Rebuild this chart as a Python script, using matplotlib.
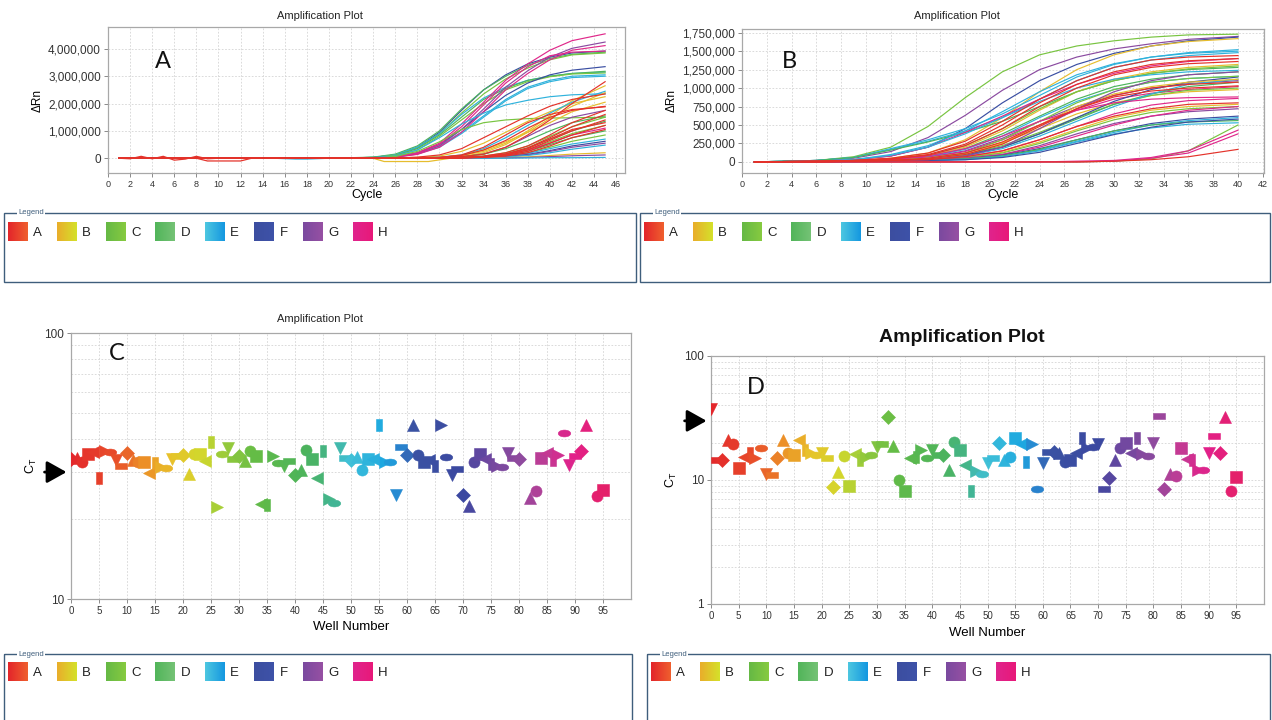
import numpy as np
import matplotlib
matplotlib.use('Agg')
import matplotlib.pyplot as plt
from matplotlib.colors import LinearSegmentedColormap, to_rgb
from matplotlib.path import Path
from matplotlib.transforms import Affine2D
from matplotlib.patches import Rectangle
from matplotlib.ticker import FuncFormatter, FixedLocator, NullFormatter

plt.rcParams['font.family'] = ['Liberation Sans', 'DejaVu Sans']

# ============================ DATA ============================
row_names = ['A', 'B', 'C', 'D', 'E', 'F', 'G', 'H']

# ---- Panel A: amplification curves (delta Rn, millions) ----
cycles_a = [1, 20, 24, 26, 28, 30, 32, 34, 36, 38, 40, 42, 45]
rows_a = "FDCEDCFEEH" + "GHHECABABB" + "EBAGAAAAAC" + "DCDCEFGEBG" + "EAHDA"
drn_a = [
    [0, 0, 0.03, 0.12, 0.40, 0.95, 1.75, 2.50, 3.05, 3.45, 3.70, 3.85, 3.92],
    [0, 0, 0.04, 0.15, 0.45, 1.00, 1.80, 2.50, 3.00, 3.40, 3.65, 3.80, 3.88],
    [0, 0, 0.03, 0.12, 0.38, 0.90, 1.65, 2.35, 2.90, 3.30, 3.60, 3.78, 3.85],
    [0, 0, 0.03, 0.12, 0.40, 0.90, 1.60, 2.20, 2.60, 2.85, 3.00, 3.10, 3.15],
    [0, 0, 0.03, 0.10, 0.35, 0.85, 1.50, 2.15, 2.55, 2.85, 3.00, 3.10, 3.18],
    [0, 0, 0.02, 0.10, 0.30, 0.80, 1.40, 2.00, 2.50, 2.80, 2.98, 3.08, 3.12],
    [0, 0, 0.02, 0.06, 0.20, 0.50, 1.05, 1.70, 2.30, 2.75, 3.05, 3.22, 3.35],
    [0, 0, 0.02, 0.05, 0.18, 0.45, 0.95, 1.55, 2.15, 2.60, 2.85, 3.00, 3.05],
    [0, 0, 0.02, 0.05, 0.16, 0.40, 0.90, 1.50, 2.10, 2.55, 2.80, 2.95, 3.00],
    [0, 0, 0.01, 0.05, 0.20, 0.55, 1.25, 2.05, 2.85, 3.45, 3.95, 4.30, 4.55],
    [0, 0, 0.01, 0.04, 0.15, 0.45, 1.05, 1.80, 2.60, 3.20, 3.70, 4.02, 4.25],
    [0, 0, 0.01, 0.04, 0.14, 0.40, 0.95, 1.70, 2.50, 3.10, 3.60, 3.95, 4.12],
    [0, 0, 0.01, 0.05, 0.18, 0.50, 1.15, 1.95, 2.75, 3.35, 3.75, 3.88, 3.92],
    [0, 0, 0.02, 0.08, 0.30, 0.75, 1.25, 1.65, 1.95, 2.12, 2.25, 2.32, 2.36],
    [0, 0, 0.01, 0.06, 0.25, 0.60, 1.05, 1.30, 1.40, 1.45, 1.47, 1.48, 1.50],
    [0, 0, 0, 0.01, 0.04, 0.12, 0.35, 0.75, 1.15, 1.55, 1.90, 2.15, 2.35],
    [0, 0, 0, 0.01, 0.03, 0.08, 0.25, 0.55, 0.95, 1.35, 1.70, 2.00, 2.25],
    [0, 0, 0, 0, 0, 0.02, 0.06, 0.15, 0.40, 0.85, 1.40, 2.00, 2.80],
    [0, 0, 0, 0, 0.01, 0.03, 0.10, 0.25, 0.55, 1.00, 1.55, 2.10, 2.65],
    [0, 0, 0, 0, 0, 0.02, 0.06, 0.20, 0.50, 0.95, 1.45, 1.90, 2.40],
    [0, 0, 0, 0, 0.01, 0.04, 0.12, 0.35, 0.75, 1.20, 1.65, 2.05, 2.45],
    [0, 0, 0, 0, 0.01, 0.03, 0.10, 0.30, 0.60, 0.95, 1.30, 1.70, 2.05],
    [0, 0, 0, 0, 0.01, 0.03, 0.10, 0.30, 0.65, 1.10, 1.50, 1.75, 1.90],
    [0, 0, 0, 0, 0, 0.02, 0.05, 0.15, 0.40, 0.80, 1.20, 1.50, 1.75],
    [0, 0, 0, 0, 0, 0.01, 0.03, 0.08, 0.20, 0.45, 0.85, 1.30, 1.75],
    [0, 0, 0, 0, 0, 0.01, 0.02, 0.06, 0.15, 0.38, 0.75, 1.15, 1.60],
    [0, 0, 0, 0, 0, 0, 0.02, 0.05, 0.12, 0.30, 0.65, 1.00, 1.40],
    [0, 0, 0, 0, 0, 0, 0.01, 0.04, 0.10, 0.25, 0.55, 0.85, 1.20],
    [0, 0, 0, 0, 0, 0, 0.01, 0.03, 0.08, 0.20, 0.45, 0.75, 1.05],
    [0, 0, 0, 0, 0, 0.01, 0.03, 0.08, 0.20, 0.45, 0.80, 1.15, 1.50],
    [0, 0, 0, 0, 0, 0.01, 0.02, 0.06, 0.16, 0.38, 0.70, 1.00, 1.35],
    [0, 0, 0, 0, 0, 0, 0.02, 0.05, 0.13, 0.32, 0.60, 0.90, 1.20],
    [0, 0, 0, 0, 0, 0, 0.01, 0.04, 0.10, 0.25, 0.50, 0.75, 1.00],
    [0, 0, 0, 0, 0, 0, 0.01, 0.03, 0.08, 0.20, 0.40, 0.62, 0.85],
    [0, 0, 0, 0, 0, 0, 0.01, 0.03, 0.08, 0.18, 0.35, 0.52, 0.70],
    [0, 0, 0, 0, 0, 0, 0.01, 0.02, 0.06, 0.14, 0.28, 0.45, 0.62],
    [0, 0, 0, 0, 0, 0, 0, 0.02, 0.05, 0.12, 0.25, 0.40, 0.55],
    [0, 0, 0, 0, 0, 0, 0, 0.01, 0.04, 0.10, 0.20, 0.33, 0.48],
    [0, 0, 0, 0, 0, 0, 0, 0.01, 0.02, 0.05, 0.10, 0.15, 0.20],
    [0, 0, 0, 0, 0, 0, 0, 0, 0.01, 0.03, 0.06, 0.09, 0.12],
    [0, 0, 0, 0, 0, 0, 0, 0, 0, 0.01, 0.02, 0.02, 0.03],
    [0, 0, 0, 0, 0, 0, 0.01, 0.05, 0.15, 0.35, 0.70, 1.05, 1.30],
    [0, 0, 0, 0, 0, 0, 0.01, 0.04, 0.12, 0.30, 0.55, 0.85, 1.10],
    [0, 0, 0, 0, 0.01, 0.02, 0.05, 0.15, 0.35, 0.65, 1.00, 1.30, 1.55],
    [0, 0, 0, 0, 0.01, 0.03, 0.12, 0.40, 0.85, 1.30, 1.60, 1.78, 1.88],
]
# baseline noise traces in panel A
noise_a_rows = "AABE"
noise_a_cycles = [[1, 2, 3, 4, 5, 6, 7, 8, 9, 10, 14, 20],
                  [8, 9, 12, 13],
                  [24, 25, 29, 31],
                  [15, 17, 18, 20]]
noise_a_values = [[0.0, -0.02, 0.07, -0.02, 0.07, -0.07, -0.03, 0.07, -0.02, 0.0, 0.02, 0.0],
                  [0.0, -0.10, -0.10, 0.0],
                  [0.0, -0.12, -0.12, 0.0],
                  [0.0, -0.03, -0.03, 0.0]]

# ---- Panel B: amplification curves (delta Rn, millions) ----
cycles_b = [1, 6, 9, 12, 15, 18, 21, 24, 27, 30, 33, 36, 40]
rows_b = "CGFBEEDHAA" + "ABCDEGHABC" + "DFEHABCGHF" + "EDEFBACEEC" + "HHAGH"
drn_b = [
    [0, 0.02, 0.07, 0.20, 0.48, 0.87, 1.22, 1.45, 1.57, 1.64, 1.69, 1.72, 1.73],
    [0, 0.02, 0.05, 0.14, 0.33, 0.63, 0.97, 1.25, 1.42, 1.53, 1.60, 1.66, 1.70],
    [0, 0.01, 0.03, 0.08, 0.20, 0.45, 0.80, 1.10, 1.32, 1.47, 1.57, 1.64, 1.69],
    [0, 0.01, 0.02, 0.05, 0.12, 0.30, 0.60, 0.95, 1.25, 1.45, 1.57, 1.63, 1.67],
    [0, 0.02, 0.06, 0.18, 0.30, 0.45, 0.65, 0.90, 1.15, 1.32, 1.42, 1.48, 1.52],
    [0, 0.02, 0.06, 0.17, 0.28, 0.42, 0.60, 0.85, 1.10, 1.28, 1.38, 1.44, 1.48],
    [0, 0.02, 0.06, 0.16, 0.27, 0.40, 0.55, 0.75, 0.95, 1.10, 1.20, 1.25, 1.28],
    [0, 0.01, 0.03, 0.08, 0.20, 0.40, 0.62, 0.85, 1.05, 1.20, 1.30, 1.36, 1.40],
    [0, 0.01, 0.02, 0.05, 0.12, 0.28, 0.55, 0.85, 1.10, 1.28, 1.38, 1.42, 1.44],
    [0, 0.01, 0.02, 0.04, 0.10, 0.24, 0.50, 0.80, 1.05, 1.22, 1.32, 1.37, 1.40],
    [0, 0.01, 0.02, 0.04, 0.09, 0.22, 0.45, 0.75, 1.00, 1.18, 1.28, 1.33, 1.36],
    [0, 0.01, 0.02, 0.04, 0.08, 0.20, 0.42, 0.70, 0.95, 1.12, 1.22, 1.28, 1.32],
    [0, 0.01, 0.02, 0.04, 0.09, 0.22, 0.45, 0.72, 0.95, 1.10, 1.20, 1.26, 1.30],
    [0, 0.01, 0.02, 0.03, 0.07, 0.18, 0.38, 0.62, 0.85, 1.02, 1.12, 1.18, 1.22],
    [0, 0.01, 0.02, 0.03, 0.07, 0.17, 0.35, 0.60, 0.82, 0.98, 1.08, 1.13, 1.16],
    [0, 0.01, 0.02, 0.03, 0.06, 0.15, 0.32, 0.55, 0.75, 0.90, 1.00, 1.06, 1.10],
    [0, 0.01, 0.01, 0.03, 0.06, 0.14, 0.30, 0.50, 0.70, 0.85, 0.93, 0.98, 1.02],
    [0, 0.01, 0.01, 0.02, 0.05, 0.12, 0.27, 0.50, 0.72, 0.88, 0.96, 1.00, 1.03],
    [0, 0.01, 0.01, 0.02, 0.05, 0.12, 0.26, 0.45, 0.65, 0.80, 0.90, 0.95, 0.98],
    [0, 0.01, 0.01, 0.02, 0.04, 0.10, 0.22, 0.40, 0.60, 0.78, 0.90, 0.97, 1.00],
    [0, 0.01, 0.01, 0.02, 0.04, 0.10, 0.20, 0.38, 0.58, 0.78, 0.92, 1.02, 1.08],
    [0, 0.01, 0.01, 0.02, 0.04, 0.09, 0.20, 0.38, 0.60, 0.82, 0.98, 1.08, 1.15],
    [0, 0.01, 0.01, 0.02, 0.04, 0.08, 0.18, 0.35, 0.55, 0.75, 0.92, 1.05, 1.12],
    [0, 0.01, 0.01, 0.02, 0.03, 0.07, 0.15, 0.30, 0.48, 0.65, 0.77, 0.83, 0.86],
    [0, 0, 0.01, 0.02, 0.03, 0.07, 0.15, 0.30, 0.48, 0.62, 0.72, 0.78, 0.80],
    [0, 0, 0.01, 0.02, 0.03, 0.06, 0.13, 0.27, 0.44, 0.60, 0.70, 0.75, 0.78],
    [0, 0, 0.01, 0.01, 0.03, 0.06, 0.12, 0.25, 0.42, 0.57, 0.67, 0.72, 0.75],
    [0, 0, 0.01, 0.01, 0.02, 0.05, 0.10, 0.22, 0.38, 0.52, 0.62, 0.68, 0.72],
    [0, 0, 0.01, 0.01, 0.02, 0.05, 0.10, 0.20, 0.35, 0.50, 0.62, 0.70, 0.75],
    [0, 0, 0.01, 0.01, 0.02, 0.04, 0.09, 0.18, 0.30, 0.42, 0.52, 0.58, 0.62],
    [0, 0, 0.01, 0.01, 0.02, 0.04, 0.08, 0.16, 0.28, 0.40, 0.50, 0.56, 0.60],
    [0, 0, 0.01, 0.01, 0.02, 0.04, 0.08, 0.17, 0.30, 0.42, 0.50, 0.54, 0.56],
    [0, 0, 0.01, 0.01, 0.02, 0.03, 0.07, 0.15, 0.27, 0.38, 0.46, 0.51, 0.53],
    [0, 0, 0.01, 0.01, 0.02, 0.03, 0.06, 0.13, 0.25, 0.37, 0.47, 0.54, 0.58],
    [0, 0, 0.01, 0.02, 0.04, 0.10, 0.25, 0.50, 0.75, 0.92, 1.02, 1.08, 1.12],
    [0, 0, 0.01, 0.02, 0.04, 0.10, 0.24, 0.48, 0.72, 0.90, 1.00, 1.05, 1.08],
    [0, 0, 0.01, 0.02, 0.05, 0.12, 0.30, 0.55, 0.80, 0.98, 1.08, 1.13, 1.16],
    [0, 0.01, 0.03, 0.10, 0.22, 0.42, 0.68, 0.95, 1.18, 1.33, 1.42, 1.47, 1.50],
    [0, 0.01, 0.03, 0.09, 0.20, 0.38, 0.60, 0.82, 1.00, 1.12, 1.18, 1.22, 1.24],
    [0, 0, 0, 0, 0, 0, 0, 0, 0, 0.01, 0.04, 0.15, 0.50],
    [0, 0, 0, 0, 0, 0, 0, 0, 0.01, 0.02, 0.06, 0.15, 0.43],
    [0, 0, 0, 0, 0, 0, 0, 0, 0, 0.01, 0.05, 0.12, 0.38],
    [0, 0, 0, 0, 0, 0, 0, 0, 0, 0.01, 0.03, 0.07, 0.17],
    [0, 0, 0, 0.01, 0.03, 0.08, 0.20, 0.45, 0.72, 0.95, 1.10, 1.18, 1.22],
    [0, 0, 0.01, 0.03, 0.08, 0.18, 0.35, 0.55, 0.70, 0.80, 0.85, 0.87, 0.88],
]

# ---- Panels C and D: Ct per well (nan = no Ct) ----
nan = float('nan')
wells = list(range(96))
ct_c = [33.5, 33.8, 32.8, 35.2, 35.7, 28.4, 36.0, 35.6, 33.3, 31.6,
        35.3, 33.3, 32.8, 32.8, 29.8, 32.5, 31.4, 31.0, 33.5, 34.5,
        34.8, 29.4, 35.0, 35.0, 33.1, 38.8, 22.1, 35.0, 36.8, 33.5,
        34.5, 33.0, 36.0, 34.5, 22.8, 22.6, 34.6, 32.5, 31.5, 33.0,
        29.2, 30.5, 36.3, 33.5, 28.4, 36.0, 23.8, 22.9, 36.8, 34.0,
        33.3, 34.2, 30.5, 33.5, 33.5, 45.2, 32.8, 32.6, 24.5, 37.4,
        34.8, 45.2, 34.8, 32.6, 33.2, 31.6, 45.2, 34.2, 29.2, 30.9,
        24.5, 22.3, 32.8, 35.2, 33.5, 32.3, 31.6, 31.4, 35.3, 33.8,
        33.5, nan, 24.0, 25.4, 33.9, 35.3, 33.3, 34.8, 42.0, 32.0,
        34.6, 36.0, 45.2, nan, 24.3, 25.6]
ct_d = [37.2, 14.5, 14.6, 21.0, 19.4, 12.4, 15.4, 16.4, 15.1, 18.0,
        11.2, 11.0, 15.0, 21.0, 16.6, 15.9, 21.0, 17.5, 16.5, 15.9,
        16.4, 15.0, 8.8, 11.7, 15.7, 9.0, 16.1, 14.6, 15.4, 15.9,
        18.6, 19.4, 32.0, 18.9, 10.0, 8.2, 15.1, 15.3, 17.5, 15.0,
        17.5, 15.9, 15.9, 12.0, 20.4, 17.5, 13.2, 8.1, 11.8, 11.1,
        13.6, 15.1, 19.8, 14.5, 15.4, 22.0, 19.5, 13.9, 19.5, 8.4,
        13.6, 16.7, 16.7, 16.4, 14.0, 14.5, 16.4, 21.9, 18.0, 18.6,
        19.4, 8.4, 10.4, 14.5, 18.0, 19.8, 16.6, 22.0, 16.1, 15.6,
        19.8, 33.0, 8.4, 11.2, 10.7, 18.2, 14.7, 14.5, 12.1, 12.0,
        16.4, 22.7, 16.4, 32.0, 8.1, 10.6]
threshold_ct = 30

# ============================ STYLE ============================
W, H = 1272, 720
fig = plt.figure(figsize=(W / 100, H / 100), dpi=100)
fig.patch.set_facecolor('white')

line_colors = {'A': '#e4322a', 'B': '#e6bd2e', 'C': '#78c440', 'D': '#4cb45c',
               'E': '#2fb2dc', 'F': '#3a4ea2', 'G': '#8a4aa0', 'H': '#e0288a'}
swatch_colors = {'A': ('#e3262b', '#ef5e2e'), 'B': ('#e9ae2a', '#d5e02b'),
                 'C': ('#66b945', '#86ca40'), 'D': ('#52b55a', '#74c275'),
                 'E': ('#4cc6e0', '#1598e0'), 'F': ('#3c4ea0', '#3e52a8'),
                 'G': ('#7b4a9f', '#9650a3'), 'H': ('#e0248c', '#e8197a')}
well_stops = [(0, '#e3262b'), (8, '#e8502a'), (13, '#ec8f27'), (18, '#e8c22a'),
              (23, '#d2d72c'), (27, '#9ccc3a'), (33, '#62bb46'), (42, '#4cb35c'),
              (47, '#42b596'), (50, '#40c0d8'), (56, '#1ca7e0'), (59, '#2a80cc'),
              (61, '#3a52a3'), (70, '#3b48a0'), (74, '#6b47a0'), (80, '#8e4a9e'),
              (85, '#c23b94'), (90, '#e2208a'), (95, '#e4206a')]
well_cmap = LinearSegmentedColormap.from_list(
    'wells', [(p / 95.0, c) for p, c in well_stops])

grid_kw = dict(color='#d4d4d4', lw=0.6, ls=(0, (2, 2)))
spine_col = '#a8a8a8'


def px_axes(l, t, r, b):
    return [l / W, 1 - b / H, (r - l) / W, (b - t) / H]


def style_axes(ax, xsize=6.5, ysize=8.5):
    for s in ax.spines.values():
        s.set_color(spine_col)
        s.set_linewidth(0.9)
    ax.tick_params(axis='x', labelsize=xsize, colors='#777777', labelcolor='#333333',
                   length=3, width=0.6, pad=2)
    ax.tick_params(axis='y', labelsize=ysize, colors='#777777', labelcolor='#333333',
                   length=3, width=0.6, pad=2)
    ax.set_axisbelow(True)


comma = FuncFormatter(lambda v, p: '{:,.0f}'.format(v))

# ---------------- Panel A ----------------
axA = fig.add_axes(px_axes(108, 27, 625, 173))
for row, cyc, vals in zip(noise_a_rows, noise_a_cycles, noise_a_values):
    axA.plot(cyc, np.array(vals) * 1e6, color=line_colors[row], lw=0.9, zorder=2)
for row, vals in zip(rows_a, drn_a):
    axA.plot(cycles_a, np.array(vals) * 1e6, color=line_colors[row], lw=0.85,
             zorder=3 if row == 'A' else 2)
axA.set_xlim(0, 46.8)
axA.set_ylim(-0.54e6, 4.8e6)
axA.set_xticks(range(0, 47, 2))
axA.set_yticks([0, 1e6, 2e6, 3e6, 4e6])
axA.yaxis.set_major_formatter(comma)
axA.grid(True, **grid_kw)
style_axes(axA)
axA.set_xlabel('Cycle', fontsize=9, labelpad=0)
axA.set_ylabel('ΔRn', fontsize=8.5, labelpad=3)

# ---------------- Panel B ----------------
axB = fig.add_axes(px_axes(742, 29, 1264, 173))
for row, vals in zip(rows_b, drn_b):
    axB.plot(cycles_b, np.array(vals) * 1e6, color=line_colors[row], lw=0.85,
             zorder=3 if row == 'A' else 2)
axB.set_xlim(0, 42.1)
axB.set_ylim(-0.15e6, 1.80e6)
axB.set_xticks(range(0, 43, 2))
axB.set_yticks(np.arange(0, 1.75e6 + 1, 0.25e6))
axB.yaxis.set_major_formatter(comma)
axB.grid(True, **grid_kw)
style_axes(axB)
axB.set_xlabel('Cycle', fontsize=9, labelpad=0)
axB.set_ylabel('ΔRn', fontsize=8.5, labelpad=3)

# ---------------- markers ----------------
hr = Path([(-1, -0.55), (1, -0.55), (1, 0.55), (-1, 0.55), (-1, -0.55)],
          [Path.MOVETO, Path.LINETO, Path.LINETO, Path.LINETO, Path.CLOSEPOLY])
vr = Path([(-0.55, -1), (0.55, -1), (0.55, 1), (-0.55, 1), (-0.55, -1)],
          [Path.MOVETO, Path.LINETO, Path.LINETO, Path.LINETO, Path.CLOSEPOLY])
ell = Path.unit_circle().transformed(Affine2D().scale(1, 0.55))
marker_cycle = ['v', hr, 'D', '^', 'o', 's', '<', vr, '>', ell]
marker_size = [8.5, 9, 7, 8.5, 8, 8, 8.5, 9, 8.5, 9]


def ct_panel(ax, ct, offset):
    seq = 0
    for w, v in zip(wells, ct):
        if np.isnan(v):
            continue
        k = (seq + offset) % 10
        c = well_cmap(w / 95.0)
        ax.plot([w], [v], ls='none', marker=marker_cycle[k], ms=marker_size[k],
                color=c, mec=c, mew=0.4, zorder=3)
        seq += 1
    ax.set_yscale('log')
    ax.set_xlim(0, 100)
    ax.set_xticks(range(0, 96, 5))
    ax.xaxis.grid(True, **grid_kw)
    ax.yaxis.grid(True, which='both', **grid_kw)
    ax.yaxis.set_minor_formatter(NullFormatter())
    style_axes(ax, xsize=7, ysize=8.5)
    ax.tick_params(axis='y', which='minor', length=0)
    ax.set_xlabel('Well Number', fontsize=9.5, labelpad=4)
    ax.set_ylabel(r'C$_{\mathregular{T}}$', fontsize=9, labelpad=4)
    ax.annotate('', xy=(-0.008, threshold_ct), xycoords=('axes fraction', 'data'),
                xytext=(-22, 0), textcoords='offset pixels', annotation_clip=False,
                arrowprops=dict(arrowstyle='-|>,head_length=0.75,head_width=0.42',
                                color='k', lw=2.0, mutation_scale=16,
                                shrinkA=0, shrinkB=0))


# ---------------- Panel C ----------------
axC = fig.add_axes(px_axes(71, 333, 631, 599))
ct_panel(axC, ct_c, 2)
axC.set_ylim(10, 100)
axC.yaxis.set_major_locator(FixedLocator([10, 100]))
axC.yaxis.set_minor_locator(FixedLocator([20, 30, 40, 50, 60, 70, 80, 90]))
axC.set_yticklabels(['10', '100'])

# ---------------- Panel D ----------------
axD = fig.add_axes(px_axes(711, 356, 1264, 604))
ct_panel(axD, ct_d, 0)
axD.set_ylim(1, 100)
axD.yaxis.set_major_locator(FixedLocator([1, 10, 100]))
axD.yaxis.set_minor_locator(FixedLocator([2, 3, 4, 5, 6, 7, 8, 9,
                                          20, 30, 40, 50, 60, 70, 80, 90]))
axD.set_yticklabels(['1', '10', '100'])

# ---------------- overlay: titles, letters, legends ----------------
ov = fig.add_axes([0, 0, 1, 1], zorder=10)
ov.set_xlim(0, W)
ov.set_ylim(H, 0)
ov.set_autoscale_on(False)
ov.axis('off')
ov.patch.set_alpha(0)

ov.text(320, 16, 'Amplification Plot', ha='center', va='center', fontsize=8, color='#222')
ov.text(957, 16, 'Amplification Plot', ha='center', va='center', fontsize=8, color='#222')
ov.text(320, 319, 'Amplification Plot', ha='center', va='center', fontsize=8, color='#222')
ov.text(962, 338, 'Amplification Plot', ha='center', va='center', fontsize=14,
        fontweight='bold', color='#111')

for letter, (lx, ly) in zip('ABCD', [(163, 61), (789, 61), (117, 353), (756, 388)]):
    ov.text(lx, ly, letter, ha='center', va='center', fontsize=17,
            family=['Lato', 'DejaVu Sans'], color='#111')


def legend_box(x0, y0, x1, y1, items_x, items_y):
    ov.add_patch(Rectangle((x0, y0), x1 - x0, y1 - y0, fill=False,
                           ec='#3f5e7c', lw=1.0, clip_on=False))
    ov.text(x0 + 14, y0, 'Legend', fontsize=5.5, color='#3f5e7c', ha='left',
            va='center', bbox=dict(fc='white', ec='none', pad=0.6))
    for i, name in enumerate(row_names):
        sx = items_x + i * 49.3
        c0, c1 = (np.array(to_rgb(c)) for c in swatch_colors[name])
        t = np.linspace(0, 1, 16)[None, :, None]
        grad = c0[None, None, :] * (1 - t) + c1[None, None, :] * t
        ov.imshow(grad, extent=(sx, sx + 20, items_y + 9.5, items_y - 9.5),
                  aspect='auto', interpolation='bilinear', zorder=2)
        ov.text(sx + 30, items_y + 0.5, name, fontsize=9.5, ha='center',
                va='center', color='#222')


legend_box(4, 213, 636, 282, 7.5, 232)
legend_box(640, 213, 1270, 282, 643.5, 232)
legend_box(4, 654, 632, 740, 7.5, 672)
legend_box(647, 654, 1270, 740, 650.5, 672)

fig.savefig('out.png', dpi=100, facecolor='white')
